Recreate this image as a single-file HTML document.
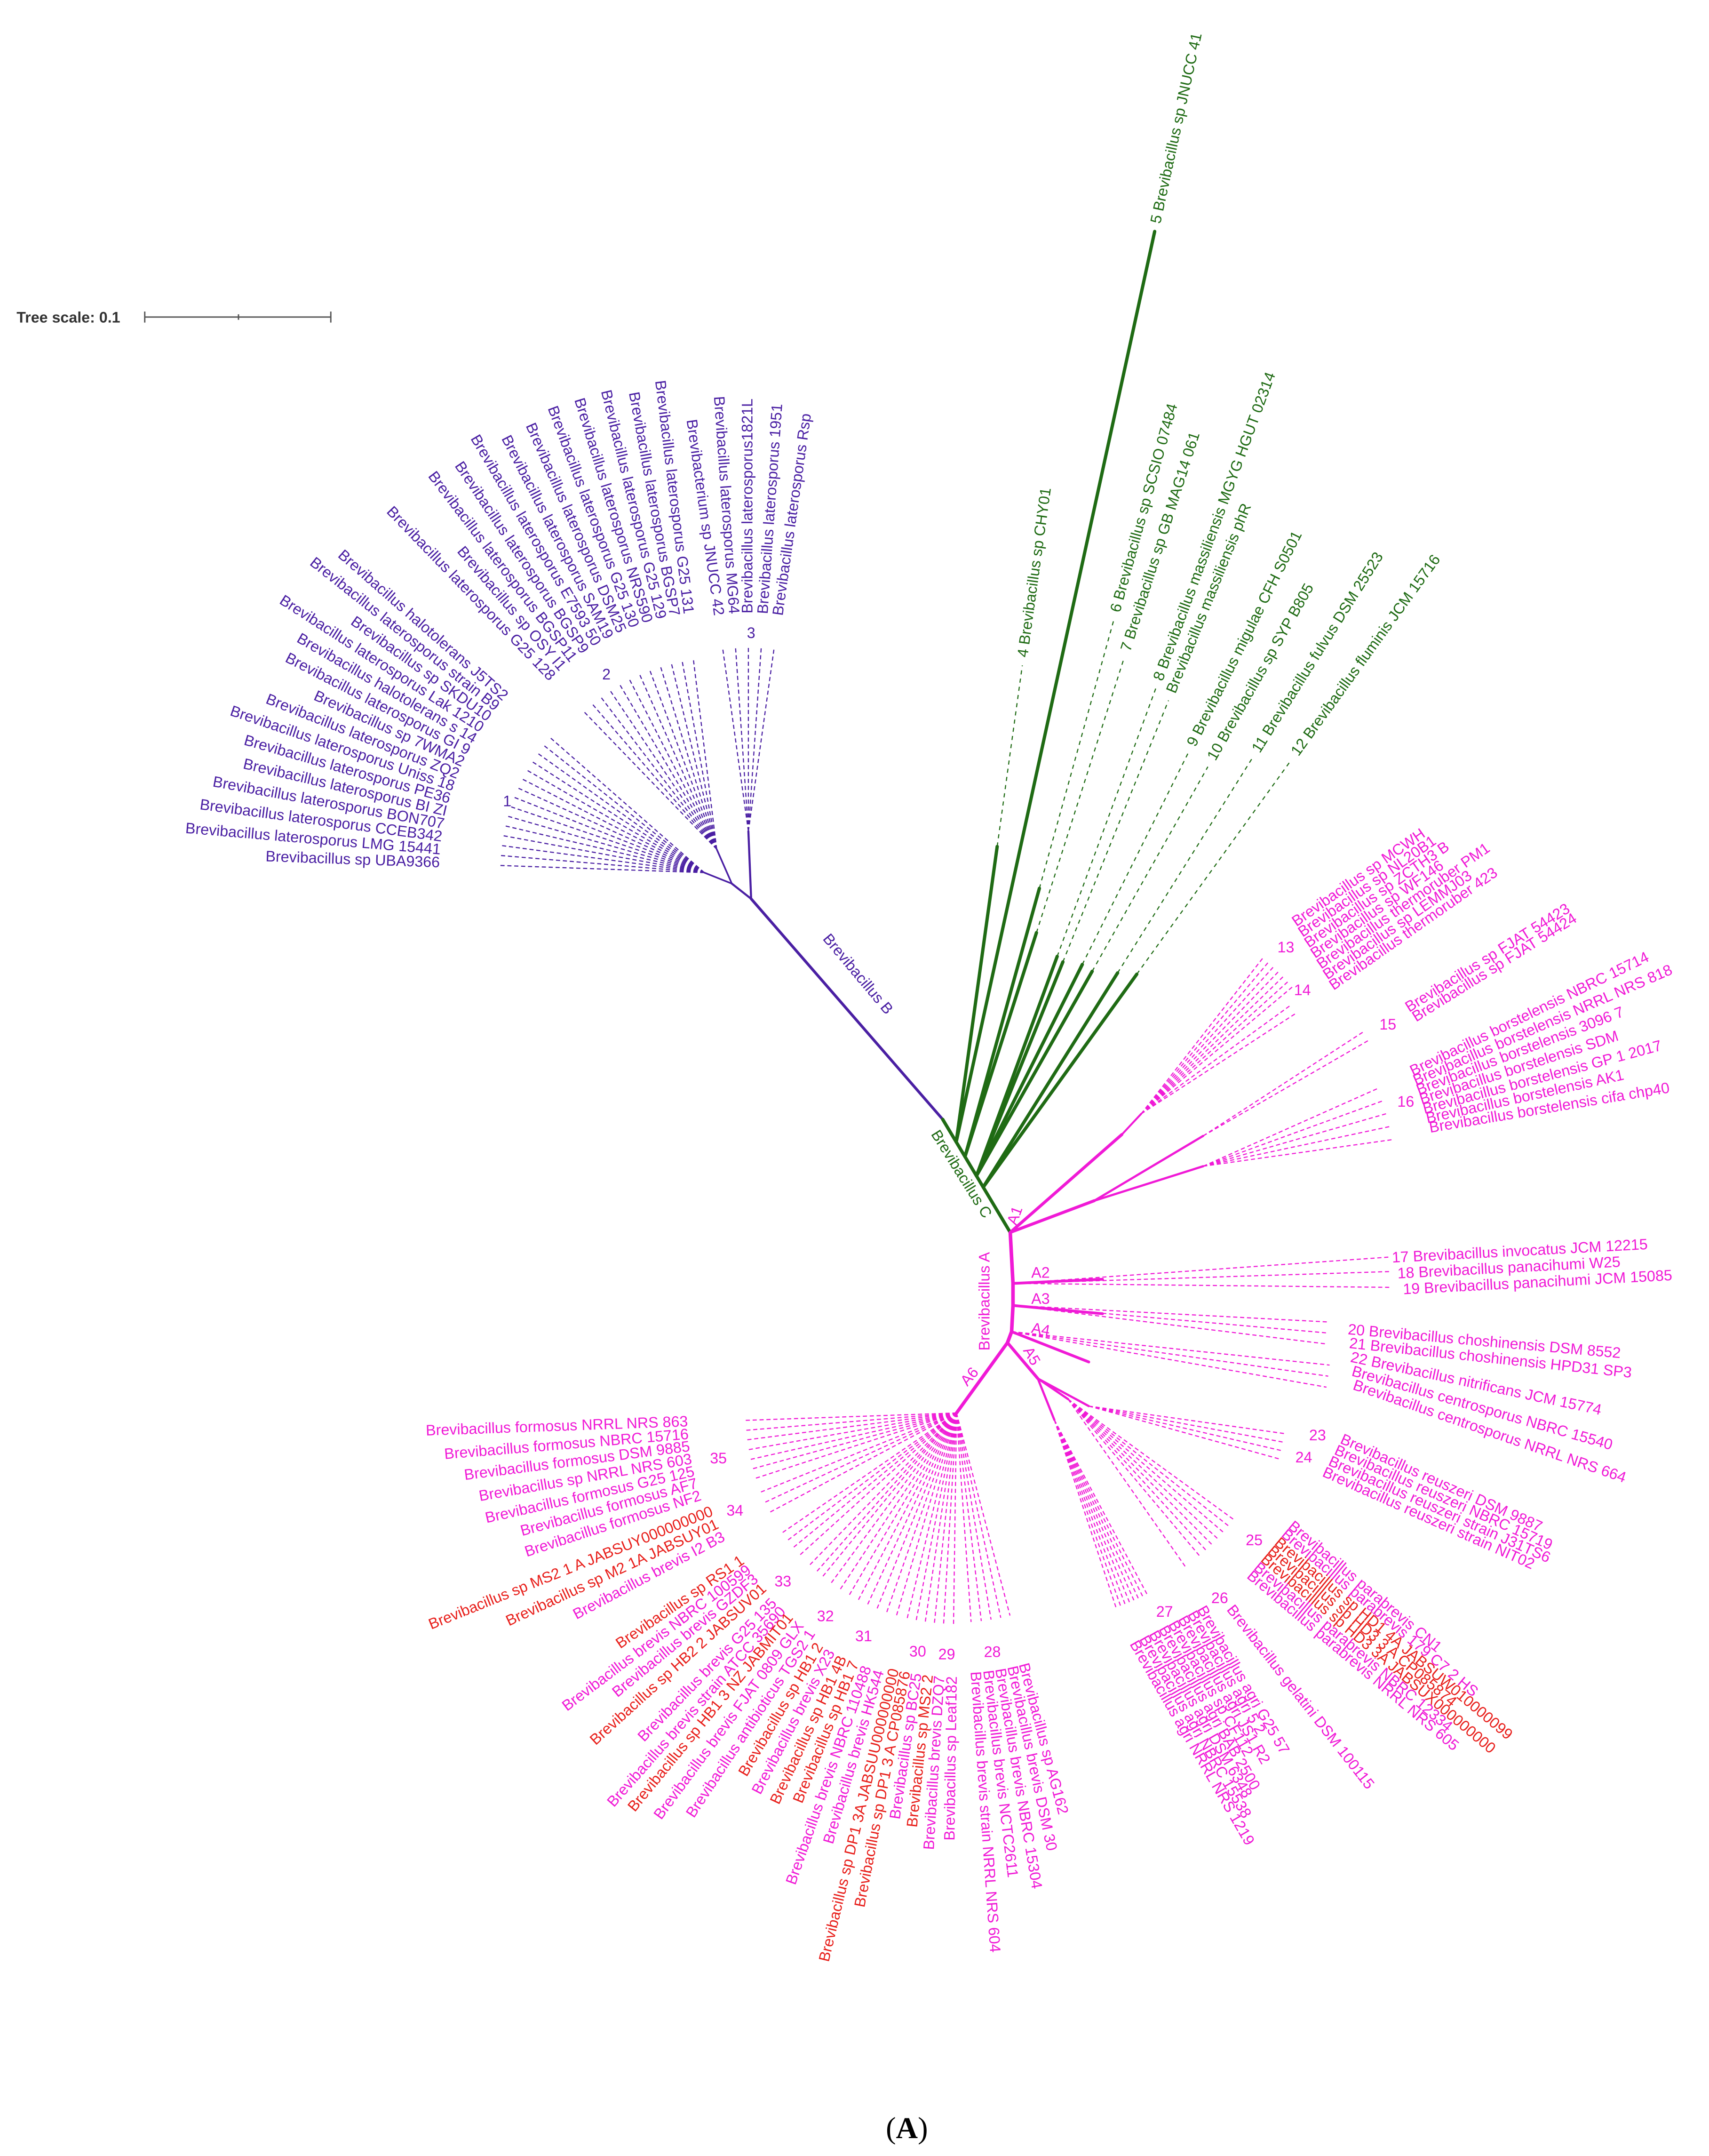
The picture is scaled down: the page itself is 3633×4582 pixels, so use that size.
<!DOCTYPE html>
<html><head><meta charset="utf-8"><title>Brevibacillus phylogenetic tree</title>
<style>html,body{margin:0;padding:0;background:#fff}svg{display:block}text{font-family:"Liberation Sans",sans-serif}</style>
</head><body>
<svg id="tree" xmlns="http://www.w3.org/2000/svg" width="3633" height="4582" viewBox="0 0 1240 1564">
<rect x="0" y="0" width="1240" height="1564" fill="#fff"/>
<g>
<text x="12" y="234" font-size="11" font-weight="bold" fill="#333">Tree scale: 0.1</text>
<line x1="105" y1="230" x2="240" y2="230" stroke="#555" stroke-width="1"/>
<line x1="105" y1="226" x2="105" y2="234" stroke="#555" stroke-width="1"/>
<line x1="173" y1="228" x2="173" y2="232" stroke="#555" stroke-width="1"/>
<line x1="240" y1="226" x2="240" y2="234" stroke="#555" stroke-width="1"/>
</g>
<g id="branches"></g>
<g id="labels"></g>
<text x="658" y="1551" font-size="22" text-anchor="middle" style="font-family:'Liberation Serif',serif">(<tspan font-weight="bold">A</tspan>)</text>
</svg>
<script>
const NS="http://www.w3.org/2000/svg";
const PURPLE="#4a1fa3", GREEN="#1f6b14", MAG="#f01ad6", RED="#e8201c";

// ---- Purple (Brevibacillus B) ----
const c1Labels=["Brevibacillus sp  UBA9366","Brevibacillus laterosporus LMG 15441","Brevibacillus laterosporus CCEB342","Brevibacillus laterosporus BON707","Brevibacillus laterosporus  BI ZI","Brevibacillus laterosporus PE36","Brevibacillus laterosporus Uniss 18","Brevibacillus laterosporus ZQ2","Brevibacillus sp 7WMA2","Brevibacillus laterosporus GI 9","Brevibacillus halotolerans s 14","Brevibacillus laterosporus Lak 1210","Brevibacillus sp SKDU10","Brevibacillus laterosporus strain B9","Brevibacillus halotolerans J5TS2"];
const c1Angles=[182,184.8,187.6,190.4,193.2,196,198.8,201.6,204.4,207.2,210,212.8,215.6,218.4,221.2];
const c2Labels=["Brevibacillus laterosporus G25 128","Brevibacillus sp OSY I1","Brevibacillus laterosporus BGSP11","Brevibacillus laterosporus BGSP9","Brevibacillus laterosporus E7593 50","Brevibacillus laterosporus SAM19","Brevibacillus laterosporus DSM25","Brevibacillus laterosporus G25 130","Brevibacillus laterosporus NRS590","Brevibacillus laterosporus G25 129","Brevibacillus laterosporus BGSP7","Brevibacillus laterosporus G25 131"];
const c2Angles=[226,229.4,232.7,236.1,239.5,242.8,246.2,249.5,252.9,256.3,259.6,263];
const c3Labels=["Brevibacterium sp JNUCC 42","Brevibacillus laterosporus MG64","Brevibacillus laterosporus1821L","Brevibacillus laterosporus 1951","Brevibacillus laterosporus Rsp"];
const c3Angles=[-98,-94,-90,-86,-82];

// ---- A6 clusters ----
const c35Labels=["Brevibacillus formosus NRRL NRS 863","Brevibacillus formosus NBRC 15716","Brevibacillus formosus DSM 9885","Brevibacillus sp NRRL NRS 603","Brevibacillus formosus G25 125","Brevibacillus formosus AF7","Brevibacillus formosus NF2"];
const c35Angles=[178,175.3,172.7,170,167.3,164.7,162];
const c34Labels=["Brevibacillus sp MS2 1 A JABSUY000000000","Brevibacillus sp M2 1A JABSUY01","Brevibacillus brevis I2 B3"];
const c34Angles=[158,155,152];
const c34Red=[1,1,0];
const c33Labels=["Brevibacillus sp RS1 1","Brevibacillus brevis NBRC 100599","Brevibacillus brevis GZDF3","Brevibacillus sp HB2 2 JABSUV01"];
const c33Angles=[145.5,143,140.5,137.8];
const c33Red=[1,0,0,1];
const c32Labels=["Brevibacillus brevis G25 135","Brevibacillus brevis strain ATCC 35690","Brevibacillus sp HB1 3 NZ JABMIT01","Brevibacillus brevis FJAT 0809 GLX","Brevibacillus antibioticus TGS2 1"];
const c32Angles=[134,131.4,129.3,126.4,123.4];
const c32Red=[0,0,1,0,0];
const c31Labels=["Brevibacillus sp HB1 2","Brevibacillus brevis X23","Brevibacillus sp HB1 4B","Brevibacillus sp HB1 7","Brevibacillus brevis NBRC 110488","Brevibacillus brevis HK544"];
const c31Angles=[120.5,117.7,114.9,112.1,109.3,106.5];
const c31Red=[1,0,1,1,0,0];
const c30Labels=["Brevibacillus sp DP1 3A JABSUU000000000","Brevibacillus sp DP1 3 A CP085876","Brevibacillus sp BC25","Brevibacillus sp MS2 2"];
const c30Angles=[103.5,101,98.5,96];
const c30Red=[1,1,0,1];
const c29Labels=["Brevibacillus brevis DZQ7","Brevibacillus sp Leaf182"];
const c29Angles=[93.5,90.8];
const c28Labels=["Brevibacillus brevis strain NRRL NRS 604","Brevibacillus brevis NCTC2611","Brevibacillus brevis NBRC 15304","Brevibacillus brevis DSM 30","Brevibacillus sp AG162"];
const c28Angles=[86,83.2,80.5,77.8,75.2];
const a6Numbers=["35","34","33","32","31","30","29","28"];
const a6NumAngles=[169,156,135.7,122.7,112.5,99.2,92.3,81.5];

// ---- Green (Brevibacillus C) ----
const gLabels=["4  Brevibacillus sp CHY01","5  Brevibacillus sp JNUCC 41","6  Brevibacillus sp SCSIO 07484","7  Brevibacillus sp GB MAG14 061","8  Brevibacillus massiliensis MGYG HGUT 02314","Brevibacillus massiliensis phR","9   Brevibacillus migulae CFH S0501","10   Brevibacillus sp SYP B805","11   Brevibacillus fulvus DSM 25523","12   Brevibacillus fluminis JCM 15716"];
const gAngles=[-82.1,-77.7,-74.5,-72.3,-69.8,-68,-63.4,-60.5,-57.9,-54.2];
const gLengths=[349,676,404,379,377,372,343,341,367,381];
const gThick=[0.62,1,0.5,0.45,0.45,0.45,0.5,0.5,0.5,0.5];
const gStemPos=[0.2,0.2,0.33,0.33,0.5,0.5,0.5,0.5,0.6,0.6];

// ---- Magenta stacked clusters ----
const c13Labels=["Brevibacillus sp MCWH","Brevibacillus sp NL20B1","Brevibacillus sp ZCTH3 B","Brevibacillus sp WF146","Brevibacillus thermoruber PM1","Brevibacillus sp LEMMJ03","Brevibacillus thermoruber 423"];
const c13Angles=[-52,-50,-48,-46,-44,-42,-40];
const c14Labels=["Brevibacillus sp FJAT 54423","Brevibacillus sp FJAT 54424"];
const c14Angles=[-36,-33];
const c15Labels=["Brevibacillus borstelensis NBRC 15714","Brevibacillus borstelensis NRRL NRS 818","Brevibacillus borstelensis 3096 7","Brevibacillus borstelensis SDM","Brevibacillus borstelensis GP 1 2017","Brevibacillus borstelensis AK1","Brevibacillus borstelensis cifa chp40"];
const c15Rot=[-26,-23.5,-21,-18,-15,-12.5,-9.5];
const c15Angles=[-33,-30];
const c16Angles=[-24,-20,-16,-12,-8];
const c17Labels=["17  Brevibacillus invocatus JCM 12215","18  Brevibacillus panacihumi W25","19  Brevibacillus panacihumi JCM 15085"];
const c17Angles=[-4,-1.8,0.6];
const c20Labels=["20  Brevibacillus choshinensis DSM 8552","21  Brevibacillus choshinensis HPD31 SP3","22  Brevibacillus nitrificans JCM 15774","Brevibacillus centrosporus NBRC 15540","Brevibacillus centrosporus NRRL NRS 664"];
const c20Rot=[5,6,12,16,19];
const a3Angles=[3,5,7];
const a4Angles=[6,8,10];
const c23Labels=["Brevibacillus reuszeri DSM 9887","Brevibacillus reuszeri NBRC 15719","Brevibacillus reuszeri strain J31TS6","Brevibacillus reuszeri strain NIT02"];
const c23Angles=[8,10.5,13,15.5];
const c25Labels=["Brevibacillus parabrevis CN1","Brevibacillus parabrevis 179 C7 2 HS","Brevibacillus sp HD1 4A JABSUW010000099","Brevibacillus sp HD3 3 A CP085874","Brevibacillus sp HD3 3A JABSUX000000000","Brevibacillus parabrevis NBRC 12334","Brevibacillus parabrevis NRRL NRS 605"];
const c25Angles=[36,38.3,40.6,43,45.3,47.6,50];
const c25Red=[0,0,1,1,1,0,0];
const c26Labels=["Brevibacillus gelatini DSM 100115"];
const c26Angles=[55];
const c27Labels=["Brevibacillus agri G25 57","Brevibacillus agri 5 2","Brevibacillus agri JS1 R2","Brevibacillus sp CF112","Brevibacillus agri BAB 2500","Brevibacillus agri DSM 6348","Brevibacillus agri NBRC 15538","Brevibacillus agri NRRL NRS 1219"];
const c27Angles=[62,63.4,64.8,66.2,67.6,69,70.4,71.8];

const B=document.getElementById('branches'), L=document.getElementById('labels');
const rad=d=>d*Math.PI/180;
function line(x1,y1,x2,y2,color,w,dash,name){
  const l=document.createElementNS(NS,'line');
  l.setAttribute('x1',x1);l.setAttribute('y1',y1);l.setAttribute('x2',x2);l.setAttribute('y2',y2);
  l.setAttribute('stroke',color);l.setAttribute('stroke-width',w);
  l.setAttribute('stroke-linecap','round');
  if(dash){l.setAttribute('stroke-dasharray',dash);l.setAttribute('stroke-linecap','butt');}
  
  
  B.appendChild(l);
}
function poly(pts,color,w,name){
  const p=document.createElementNS(NS,'polyline');
  p.setAttribute('points',pts.map(q=>q.join(',')).join(' '));
  p.setAttribute('fill','none');p.setAttribute('stroke',color);p.setAttribute('stroke-width',w);
  p.setAttribute('stroke-linejoin','round');
  
  
  B.appendChild(p);
}
function text(x,y,str,color,rot,anchor,name,size){
  const t=document.createElementNS(NS,'text');
  t.setAttribute('x',x);t.setAttribute('y',y);
  t.setAttribute('font-size',size||11);t.setAttribute('fill',color);
  t.setAttribute('text-anchor',anchor||'start');
  t.setAttribute('dominant-baseline','middle');
  if(rot) t.setAttribute('transform','rotate('+rot+' '+x+' '+y+')');
  t.textContent=str;
  
  
  L.appendChild(t);
}
function fan(ox,oy,rt,angles,color,name){
  angles.forEach(a=>{
    line(ox,oy,ox+rt*Math.cos(rad(a)),oy+rt*Math.sin(rad(a)),color,0.8,'3,2',name+'-branch');
  });
}
function rayCluster(ox,oy,rt,rl,angles,labels,color,reds,name){
  fan(ox,oy,rt,angles,color,name);
  angles.forEach((a,i)=>{
    const c=Math.cos(rad(a)), s=Math.sin(rad(a));
    const col=(reds&&reds[i])?RED:color;
    const lx=ox+rl*c, ly=oy+rl*s;
    if(c<0) text(lx,ly,labels[i],col,a-180,'end',name+'-label');
    else text(lx,ly,labels[i],col,a,'start',name+'-label');
  });
}
function stackLabels(labels,lx,ly,sx,sy,rot,color,reds,name){
  labels.forEach((lab,i)=>{
    const col=(reds&&reds[i])?RED:color;
    const r=Array.isArray(rot)?rot[i]:rot;
    text(lx+sx*i,ly+sy*i,lab,col,r,'start',name+'-label');
  });
}

// ---- Purple group ----
line(684,812,545,652,PURPLE,2,null,'brevibacillus-b-branch');
line(545,652,531,641,PURPLE,1.5,null,'clade-12-branch');
line(531,641,511,633,PURPLE,1.2,null,'clade-1-stem');
line(531,641,520,616,PURPLE,1.2,null,'clade-2-stem');
line(545,652,543,603,PURPLE,1.5,null,'clade-3-stem');
rayCluster(511,633,148,192,c1Angles,c1Labels,PURPLE,null,'clade-1');
rayCluster(520,616,140,172,c2Angles,c2Labels,PURPLE,null,'clade-2');
rayCluster(543,603,133,158,c3Angles,c3Labels,PURPLE,null,'clade-3');
text(368,582,"1",PURPLE,0,'middle','clade-1-number');
text(440,490,"2",PURPLE,0,'middle','clade-2-number');
text(545,460,"3",PURPLE,0,'middle','clade-3-number');
text(622,707,"Brevibacillus B",PURPLE,50,'middle','brevibacillus-b-label');

// ---- Green group ----
const sx0=684, sy0=812, sx1=733, sy1=894;
line(sx0,sy0,sx1,sy1,GREEN,2.4,null,'brevibacillus-c-stem');
gAngles.forEach((a,i)=>{
  const bx=sx0+(sx1-sx0)*gStemPos[i], by=sy0+(sy1-sy0)*gStemPos[i];
  const c=Math.cos(rad(a)), s=Math.sin(rad(a));
  const L1=gLengths[i]*gThick[i], L2=gLengths[i];
  line(bx,by,bx+L1*c,by+L1*s,GREEN,2.4,null,'clade-c-branch');
  if(gThick[i]<1) line(bx+L1*c,by+L1*s,bx+L2*c,by+L2*s,GREEN,0.8,'3,3','clade-c-branch-tip');
  text(bx+(L2+6)*c,by+(L2+6)*s,gLabels[i],GREEN,a,'start','clade-c-label');
});
text(697,852,"Brevibacillus C",GREEN,58,'middle','brevibacillus-c-label');

// ---- Magenta group ----
poly([[733,894],[735,931],[735,947],[734,966],[731,974]],MAG,2.6,'brevibacillus-a-spine');
line(731,974,694,1025,MAG,2.4,null,'a6-branch');
line(731,974,753,1000,MAG,2.2,null,'a5-branch');
line(733,894,814,823,MAG,2.2,null,'a1-upper-branch');
line(814,823,828,808,MAG,1.4,null,'clade-13-14-stem');
line(733,894,794,871,MAG,2.2,null,'a1-lower-branch');
line(794,871,873,824,MAG,1.6,null,'clade-15-stem');
line(794,871,873,846,MAG,1.6,null,'clade-16-stem');
line(735,931,800,928,MAG,2,null,'a2-branch');
line(735,947,800,953,MAG,2,null,'a3-branch');
line(734,966,790,988,MAG,2,null,'a4-branch');
line(753,1000,790,1020,MAG,1.6,null,'clade-23-24-stem');
line(753,1000,775,1015,MAG,1.6,null,'clade-25-stem');
line(753,1000,765,1030,MAG,1.6,null,'clade-27-stem');

fan(828,808,145,c13Angles,MAG,'clade-13');
fan(828,808,135,c14Angles,MAG,'clade-14');
fan(873,824,140,c15Angles,MAG,'clade-15');
fan(873,846,140,c16Angles,MAG,'clade-16');
stackLabels(c13Labels,939,670,4.5,7.7,-35,MAG,null,'clade-13');
stackLabels(c14Labels,1021,732,5,7,-32,MAG,null,'clade-14');
stackLabels(c15Labels,1024,778,2.2,6.8,c15Rot,MAG,null,'clade-15-16');
text(933,688,"13",MAG,0,'middle','clade-13-number');
text(945,719,"14",MAG,0,'middle','clade-14-number');
text(1007,744,"15",MAG,0,'middle','clade-15-number');
text(1020,800,"16",MAG,0,'middle','clade-16-number');

fan(735,931,275,c17Angles,MAG,'clade-17-19');
stackLabels(c17Labels,1010,913,4,11.5,-3,MAG,null,'clade-17-19');
fan(735,947,230,a3Angles,MAG,'clade-20-21');
fan(734,966,232,a4Angles,MAG,'clade-22');
stackLabels(c20Labels,978,965,1,10,c20Rot,MAG,null,'clade-20-22');

fan(790,1020,145,c23Angles,MAG,'clade-23-24');
stackLabels(c23Labels,973,1044,-4.3,8,24,MAG,null,'clade-23-24');
text(956,1042,"23",MAG,0,'middle','clade-23-number');
text(946,1058,"24",MAG,0,'middle','clade-24-number');
fan(775,1015,150,c25Angles,MAG,'clade-25');
stackLabels(c25Labels,936,1106,-5,6,40,MAG,c25Red,'clade-25');
fan(775,1015,150,c26Angles,MAG,'clade-26');
stackLabels(c26Labels,892,1166,0,0,52,MAG,null,'clade-26');
fan(765,1030,145,c27Angles,MAG,'clade-27');
stackLabels(c27Labels,871,1166,-7,3.6,60,MAG,null,'clade-27');
text(910,1118,"25",MAG,0,'middle','clade-25-number');
text(885,1160,"26",MAG,0,'middle','clade-26-number');
text(845,1170,"27",MAG,0,'middle','clade-27-number');

const N6x=694, N6y=1025;
rayCluster(N6x,N6y,155,195,c35Angles,c35Labels,MAG,null,'clade-35');
rayCluster(N6x,N6y,155,191,c34Angles,c34Labels,MAG,c34Red,'clade-34');
rayCluster(N6x,N6y,155,188,c33Angles,c33Labels,MAG,c33Red,'clade-33');
rayCluster(N6x,N6y,155,190,c32Angles,c32Labels,MAG,c32Red,'clade-32');
rayCluster(N6x,N6y,155,195,c31Angles,c31Labels,MAG,c31Red,'clade-31');
rayCluster(N6x,N6y,155,191,c30Angles,c30Labels,MAG,c30Red,'clade-30');
rayCluster(N6x,N6y,155,191,c29Angles,c29Labels,MAG,null,'clade-29');
rayCluster(N6x,N6y,152,188,c28Angles,c28Labels,MAG,null,'clade-28');
a6Numbers.forEach((n,i)=>{
  const a=rad(a6NumAngles[i]);
  text(N6x+176*Math.cos(a),N6y+176*Math.sin(a),n,MAG,0,'middle','clade-number');
});
text(715,944,"Brevibacillus A",MAG,-90,'middle','brevibacillus-a-label');
text(737,882,"A1",MAG,-70,'middle','a1-label');
text(755,924,"A2",MAG,0,'middle','a2-label');
text(755,943,"A3",MAG,0,'middle','a3-label');
text(755,965,"A4",MAG,10,'middle','a4-label');
text(748,984,"A5",MAG,60,'middle','a5-label');
text(704,999,"A6",MAG,-50,'middle','a6-label');
</script>
</body></html>
